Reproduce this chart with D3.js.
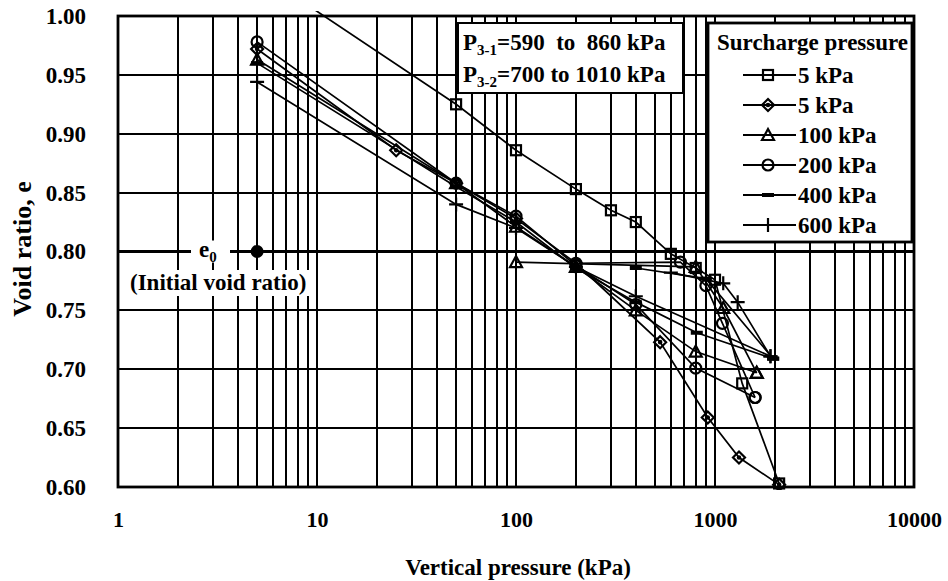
<!DOCTYPE html>
<html>
<head>
<meta charset="utf-8">
<script src="https://cdn.jsdelivr.net/npm/d3@7"></script>
<style>
body { margin: 0; background: #fff; }
svg text { font-family: "Liberation Serif", "Times New Roman", serif; font-weight: bold; fill: #000; }
</style>
</head>
<body>
<svg id="chart" width="948" height="581"></svg>
<script>
// tick values
var xTicks = [1, 10, 100, 1000, 10000];
var yTicks = [0.60, 0.65, 0.70, 0.75, 0.80, 0.85, 0.90, 0.95, 1.00];

// initial void ratio
var e0 = 0.80;
var e0Press = 5;
var e0Line = [[1, 0.80], [10000, 0.80]];

// readings [vertical pressure kPa, void ratio]
var sq5 = [[5, 1.038], [50, 0.925], [100, 0.886], [200, 0.853], [300, 0.835], [400, 0.825], [600, 0.798], [800, 0.786], [1000, 0.776], [1370, 0.688], [2100, 0.603]];
var dia5 = [[5, 0.972], [25, 0.886], [50, 0.858], [100, 0.828], [200, 0.790], [530, 0.723], [920, 0.659], [1320, 0.625], [2100, 0.602]];
var tri100a = [[5, 0.963], [50, 0.858], [100, 0.821], [200, 0.787], [400, 0.750], [800, 0.715], [1620, 0.697]];
var tri100b = [[100, 0.791], [800, 0.787], [1100, 0.752], [1620, 0.697]];
var cir200a = [[5, 0.978], [50, 0.858], [100, 0.830], [200, 0.788], [400, 0.755], [800, 0.701], [1590, 0.676]];
var cir200b = [[200, 0.790], [670, 0.791], [900, 0.771], [1090, 0.739], [1590, 0.676]];
var dash400a = [[5, 0.960], [50, 0.855], [100, 0.825], [200, 0.786], [400, 0.757], [810, 0.731], [1960, 0.709]];
var dash400b = [[400, 0.786], [900, 0.777], [1960, 0.709]];
var plus600a = [[5, 0.944], [50, 0.840], [100, 0.820], [200, 0.787], [400, 0.762], [1900, 0.711]];
var plus600b = [[600, 0.782], [1100, 0.773], [1300, 0.757], [1900, 0.711]];

var legendLabels = ["5 kPa", "5 kPa", "100 kPa", "200 kPa", "400 kPa", "600 kPa"];
var markerTypes = ["square", "diamond", "triangle", "circle", "dash", "plus"];

var series = [
    {marker: "square", branches: [sq5]},
    {marker: "diamond", branches: [dia5]},
    {marker: "triangle", branches: [tri100a, tri100b]},
    {marker: "circle", branches: [cir200a, cir200b]},
    {marker: "dash", branches: [dash400a, dash400b]},
    {marker: "plus", branches: [plus600a, plus600b]}
];

var svg = d3.select("#chart");
var pLeft = 118, pRight = 914, pTop = 16, pBottom = 487;

var x = d3.scaleLog().domain([1, 10000]).range([pLeft, pRight]);
var y = d3.scaleLinear().domain([0.6, 1.0]).range([pBottom, pTop]);

// grid
var minor = [];
for (var n = 0; n < 4; n++) {
    for (var k = 1; k <= 9; k++) minor.push(k * Math.pow(10, n));
}
var grid = svg.append("g").attr("stroke", "#000").attr("stroke-width", 2)
    .attr("shape-rendering", "crispEdges");
grid.selectAll(".v").data(minor).enter().append("line")
    .attr("x1", function (d) { return Math.round(x(d)); })
    .attr("x2", function (d) { return Math.round(x(d)); })
    .attr("y1", pTop).attr("y2", pBottom);
grid.selectAll(".h").data(yTicks).enter().append("line")
    .attr("x1", pLeft).attr("x2", pRight)
    .attr("y1", function (d) { return Math.round(y(d)); })
    .attr("y2", function (d) { return Math.round(y(d)); });

// frame
svg.append("rect")
    .attr("x", pLeft).attr("y", pTop)
    .attr("width", pRight - pLeft).attr("height", pBottom - pTop)
    .attr("fill", "none").attr("stroke", "#000").attr("stroke-width", 2.8);

// axes
var xAxis = svg.append("g")
    .attr("transform", "translate(0," + pBottom + ")")
    .call(d3.axisBottom(x).tickValues(xTicks).tickFormat(d3.format("d")).tickSize(0).tickPadding(24));
xAxis.select(".domain").remove();
xAxis.attr("font-size", 22).attr("font-family", null);

var yAxis = svg.append("g")
    .attr("transform", "translate(" + pLeft + ",0)")
    .call(d3.axisLeft(y).tickValues(yTicks).tickFormat(d3.format(".2f")).tickSize(0).tickPadding(32));
yAxis.select(".domain").remove();
yAxis.attr("font-size", 23).attr("font-family", null);

svg.append("text")
    .attr("x", 518).attr("y", 575)
    .attr("text-anchor", "middle").attr("font-size", 23)
    .text("Vertical pressure (kPa)");

svg.append("text")
    .attr("transform", "translate(31,249) rotate(-90)")
    .attr("text-anchor", "middle").attr("font-size", 26)
    .text("Void ratio, e");

// data
svg.append("clipPath").attr("id", "plotclip")
    .append("rect").attr("x", pLeft).attr("y", pTop - 5)
    .attr("width", pRight - pLeft).attr("height", pBottom - pTop + 8);

var plot = svg.append("g").attr("clip-path", "url(#plotclip)");

var line = d3.line()
    .x(function (d) { return x(d[0]); })
    .y(function (d) { return y(d[1]); });

function drawMarker(g, type, cx, cy) {
    var m = g.append("g").attr("transform", "translate(" + cx + "," + cy + ")")
        .attr("stroke", "#000").attr("stroke-width", 2.2).attr("fill", "none");
    if (type === "square") {
        m.append("rect").attr("x", -5).attr("y", -5).attr("width", 10).attr("height", 10);
    } else if (type === "diamond") {
        m.append("path").attr("d", "M0,-6L6,0L0,6L-6,0Z");
        m.append("circle").attr("r", 1.2).attr("fill", "#000");
    } else if (type === "triangle") {
        m.append("path").attr("d", "M0,-6L6,5L-6,5Z");
    } else if (type === "circle") {
        m.append("circle").attr("r", 5.5);
    } else if (type === "dash") {
        m.append("rect").attr("x", -6).attr("y", -2).attr("width", 12).attr("height", 4)
            .attr("fill", "#000").attr("stroke", "none");
    } else if (type === "plus") {
        m.append("path").attr("d", "M-7,0H7M0,-7V7");
    }
}

series.forEach(function (s) {
    s.branches.forEach(function (b) {
        plot.append("path").datum(b)
            .attr("d", line)
            .attr("fill", "none").attr("stroke", "#000").attr("stroke-width", 1.7);
    });
});
series.forEach(function (s) {
    s.branches.forEach(function (b) {
        b.forEach(function (d) {
            drawMarker(plot, s.marker, x(d[0]), y(d[1]));
        });
    });
});

// initial void ratio line
plot.append("path").datum(e0Line)
    .attr("d", line)
    .attr("fill", "none").attr("stroke", "#000").attr("stroke-width", 3);
svg.append("rect")
    .attr("x", 191).attr("y", y(e0) - 11).attr("width", 39).attr("height", 22)
    .attr("fill", "#fff");
var e0Text = svg.append("text")
    .attr("x", 199).attr("y", y(e0) + 5).attr("font-size", 23);
e0Text.append("tspan").text("e");
e0Text.append("tspan").attr("font-size", 15).attr("dy", 5).text("0");
svg.append("circle")
    .attr("cx", x(e0Press)).attr("cy", y(e0)).attr("r", 6.5)
    .attr("fill", "#000");
svg.append("rect")
    .attr("x", 127).attr("y", 270).attr("width", 182).attr("height", 26)
    .attr("fill", "#fff");
svg.append("text")
    .attr("x", 130).attr("y", 290).attr("font-size", 23)
    .text("(Initial void ratio)");

// annotation box
svg.append("rect")
    .attr("x", 458).attr("y", 23).attr("width", 225).attr("height", 70)
    .attr("fill", "#fff").attr("stroke", "#000").attr("stroke-width", 2);
var note1 = svg.append("text").attr("x", 463).attr("y", 50).attr("font-size", 23);
note1.append("tspan").text("P");
note1.append("tspan").attr("font-size", 15).attr("dy", 5).text("3-1");
note1.append("tspan").attr("dy", -5).attr("xml:space", "preserve").text("=590  to  860 kPa");
var note2 = svg.append("text").attr("x", 463).attr("y", 82).attr("font-size", 23);
note2.append("tspan").text("P");
note2.append("tspan").attr("font-size", 15).attr("dy", 5).text("3-2");
note2.append("tspan").attr("dy", -5).text("=700 to 1010 kPa");

// legend
var lg = svg.append("g");
lg.append("rect")
    .attr("x", 708).attr("y", 23).attr("width", 204).attr("height", 219)
    .attr("fill", "#fff").attr("stroke", "#000").attr("stroke-width", 2.8);
lg.append("text").attr("x", 717).attr("y", 50).attr("font-size", 23)
    .text("Surcharge pressure");
legendLabels.forEach(function (lab, i) {
    var yy = 83 + i * 30;
    lg.append("line").attr("x1", 743).attr("x2", 796)
        .attr("y1", yy - 8).attr("y2", yy - 8)
        .attr("stroke", "#000").attr("stroke-width", 1.8);
    drawMarker(lg, markerTypes[i], 768, yy - 8);
    lg.append("text").attr("x", 798).attr("y", yy).attr("font-size", 23).text(lab);
});
</script>
</body>
</html>
